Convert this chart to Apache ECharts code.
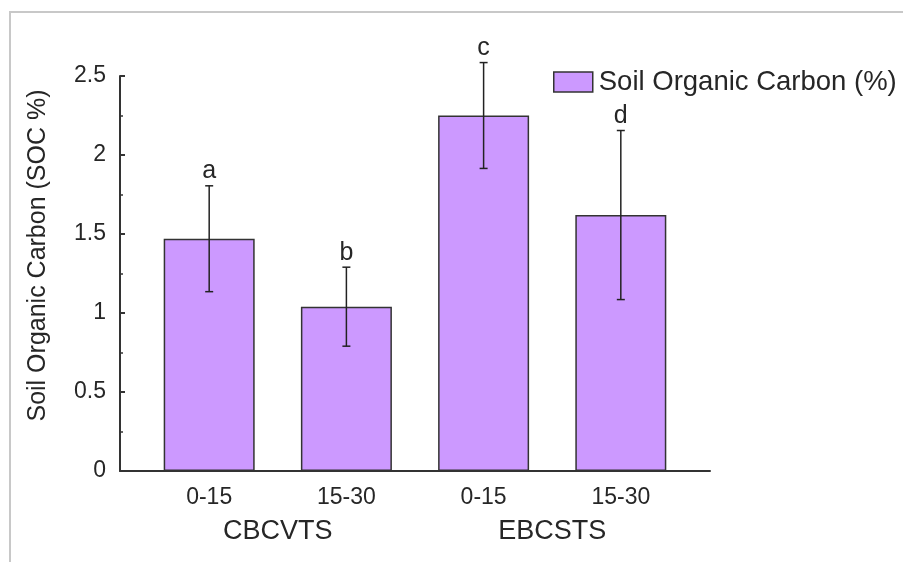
<!DOCTYPE html>
<html>
<head>
<meta charset="utf-8">
<script src="https://cdn.jsdelivr.net/npm/echarts@6/dist/echarts.min.js"></script>
<style>
html,body{margin:0;padding:0;background:#fff;}
#chart{width:903px;height:562px;}
</style>
</head>
<body>
<div id="chart"></div>
<script>
// ---- data ----
const depths = ['0-15', '15-30', '0-15', '15-30'];
const systems = ['CBCVTS', 'EBCSTS'];
const systemPositions = [0.5, 2.5];
const socValues = [1.47, 1.04, 2.25, 1.62];
const socErrors = [0.335, 0.25, 0.335, 0.535];
const letters = ['a', 'b', 'c', 'd'];
const seriesName = 'Soil Organic Carbon (%)';
const yTitle = 'Soil Organic Carbon (SOC %)';

const FONT = '"Liberation Sans", Arial, sans-serif';
const TXT = '#262626';

const chart = echarts.init(document.getElementById('chart'), null, {renderer: 'canvas'});

const barData = socValues.map((v, i) => [i, v]);
const errData = socValues.map((v, i) => [i, v - socErrors[i], v + socErrors[i]]);

const option = {
  backgroundColor: '#fff',
  animation: false,
  textStyle: {fontFamily: FONT},
  graphic: [{
    type: 'polyline',
    shape: {points: [[10, 562], [10, 12], [903, 12]]},
    style: {stroke: '#c8c8c8', lineWidth: 2, fill: null},
    silent: true
  }],
  grid: {left: 120, right: 193, top: 76, bottom: 91, containLabel: false},
  legend: {
    data: [seriesName],
    left: 553, top: 68,
    padding: 0,
    itemWidth: 39, itemHeight: 20,
    icon: 'rect',
    itemStyle: {borderColor: '#333', borderWidth: 1.5},
    textStyle: {fontSize: 27.5, color: TXT, fontFamily: FONT, padding: [0, 0, 0, 1]}
  },
  xAxis: [{
    type: 'value',
    min: -0.65, max: 3.65,
    axisLine: {show: true, onZero: false, lineStyle: {color: '#333', width: 2}},
    axisTick: {show: false},
    splitLine: {show: false},
    axisLabel: {
      customValues: depths.map((d, i) => i),
      formatter: v => depths[Math.round(v)],
      fontSize: 23, color: TXT, margin: 15, fontFamily: FONT
    }
  }, {
    type: 'value',
    position: 'bottom',
    min: -0.65, max: 3.65,
    axisLine: {show: false, onZero: false},
    axisTick: {show: false},
    splitLine: {show: false},
    axisLabel: {
      customValues: systemPositions,
      formatter: v => systems[systemPositions.indexOf(v)],
      fontSize: 27, color: TXT, margin: 47, fontFamily: FONT
    }
  }],
  yAxis: {
    type: 'value',
    min: 0, max: 2.5, interval: 0.5,
    name: yTitle,
    nameLocation: 'middle',
    nameRotate: 90,
    nameGap: 69,
    nameTextStyle: {fontSize: 25, color: TXT, fontFamily: FONT, padding: [0, 0, 0, 36]},
    axisLine: {show: true, onZero: false, lineStyle: {color: '#333', width: 2}},
    axisTick: {show: true, inside: true, length: 5, lineStyle: {color: '#333', width: 2}},
    minorTick: {show: true, splitNumber: 2, length: 3, lineStyle: {color: '#333', width: 1.5}},
    splitLine: {show: false},
    axisLabel: {
      fontSize: 23, color: TXT, margin: 14, fontFamily: FONT,
      formatter: v => String(v)
    }
  },
  series: [{
    name: seriesName,
    type: 'bar',
    xAxisIndex: 0,
    data: barData,
    barWidth: 91,
    itemStyle: {color: '#cc99ff', borderColor: '#333', borderWidth: 1.5}
  }, {
    type: 'custom',
    xAxisIndex: 0,
    data: errData,
    z: 10,
    renderItem: function (params, api) {
      const x = api.value(0);
      const lo = api.coord([x, api.value(1)]);
      const hi = api.coord([x, api.value(2)]);
      const cw = 4;
      const st = {stroke: '#222', lineWidth: 1.5};
      return {
        type: 'group',
        children: [
          {type: 'line', shape: {x1: lo[0], y1: lo[1], x2: hi[0], y2: hi[1]}, style: st},
          {type: 'line', shape: {x1: hi[0] - cw, y1: hi[1], x2: hi[0] + cw, y2: hi[1]}, style: st},
          {type: 'line', shape: {x1: lo[0] - cw, y1: lo[1], x2: lo[0] + cw, y2: lo[1]}, style: st},
          {type: 'text', style: {
            text: letters[params.dataIndex],
            x: hi[0], y: hi[1] - 2,
            align: 'center', verticalAlign: 'bottom',
            fontSize: 25, fill: TXT, fontFamily: FONT
          }}
        ]
      };
    }
  }]
};
chart.setOption(option);
</script>
</body>
</html>
